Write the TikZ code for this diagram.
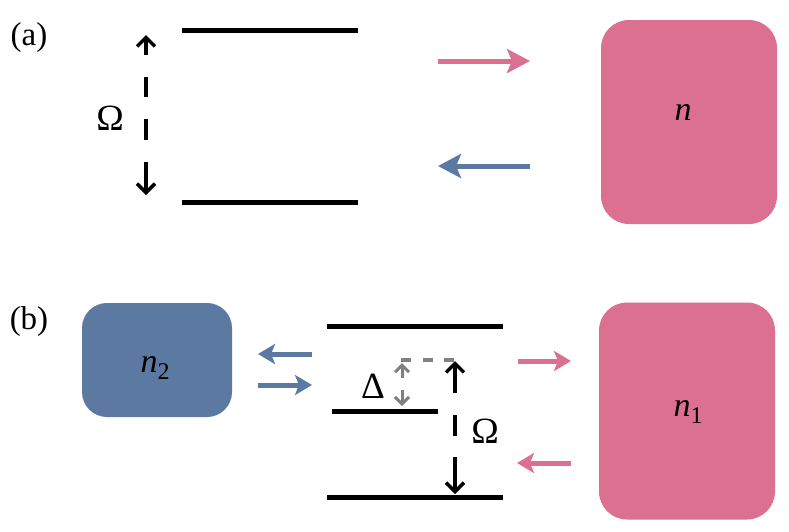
\documentclass[tikz,border=0pt]{standalone}
\usepackage{fontspec}
\setmainfont{Liberation Serif}
\usetikzlibrary{arrows.meta}
\definecolor{pinkc}{RGB}{219,112,145}
\definecolor{bluec}{RGB}{91,121,161}
\definecolor{grayc}{RGB}{128,128,128}
\begin{document}
\begin{tikzpicture}[x=1pt,y=-1pt,
  level/.style={line width=5pt},
  boxshape/.style={rounded corners=28pt, draw=none, inner sep=0pt},
  lbl/.style={inner sep=0pt, font=\fontsize{33}{35}\selectfont},
  glbl/.style={inner sep=0pt, font=\fontsize{37}{39}\selectfont},
  nlbl/.style={inner sep=0pt, font=\fontsize{34}{36}\selectfont},
  bigarrow/.style={line width=5pt, -{Stealth[length=23pt,width=24pt,inset=5pt]}},
  smallarrow/.style={line width=5pt, -{Stealth[length=17pt,width=20pt,inset=4pt]}},
  barb/.style={line width=3.5pt, -{Straight Barb[length=9pt,width=18pt]}},
  dashseg/.style={line width=3.5pt},
  graybarb/.style={grayc, line width=3pt, -{Straight Barb[length=7pt,width=14pt]}},
]
\useasboundingbox (0,0) rectangle (789,531);

% ---------------- (a) ----------------
\node[lbl] (la) at (29,38) {(a)};
\coordinate (aTopL) at (182,30);  \coordinate (aTopR) at (358,30);
\coordinate (aBotL) at (182,202); \coordinate (aBotR) at (358,202);
\draw[level] (aTopL) -- (aTopR);
\draw[level] (aBotL) -- (aBotR);

\coordinate (aO1) at (146,55);  \coordinate (aO0) at (146,35);
\coordinate (aD1) at (146,77);  \coordinate (aD2) at (146,97);
\coordinate (aD3) at (146,119); \coordinate (aD4) at (146,140);
\coordinate (aU1) at (146,162); \coordinate (aU0) at (146,195);
\draw[barb] (aO1) -- (aO0);
\draw[dashseg] (aD1) -- (aD2);
\draw[dashseg] (aD3) -- (aD4);
\draw[barb] (aU1) -- (aU0);
\node[glbl] (aOmega) at (110,118) {Ω};

\coordinate (aP1) at (438,61);  \coordinate (aP2) at (530,61);
\coordinate (aB1) at (530,166); \coordinate (aB2) at (438,166);
\draw[bigarrow, pinkc] (aP1) -- (aP2);
\draw[bigarrow, bluec] (aB1) -- (aB2);

\node[boxshape, fill=pinkc, minimum width=176pt, minimum height=204pt] (boxA) at (689,122) {};
\node[nlbl] (nA) at (683,112) {\itshape n};

% ---------------- (b) ----------------
\node[lbl] (lb) at (29,322) {(b)};

\node[boxshape, fill=bluec, rounded corners=25pt, minimum width=150pt, minimum height=114pt] (boxB2) at (157,360) {};
\node[nlbl] (n2) at (155,368) {\itshape n\raisebox{-7pt}{\fontsize{24}{24}\selectfont\upshape 2}};

\coordinate (bL1) at (312,354); \coordinate (bL2) at (258,354);
\coordinate (bR1) at (258,385); \coordinate (bR2) at (312,385);
\draw[smallarrow, bluec] (bL1) -- (bL2);
\draw[smallarrow, bluec] (bR1) -- (bR2);

\coordinate (bTopL) at (327,326); \coordinate (bTopR) at (503,326);
\coordinate (bMidL) at (332,411); \coordinate (bMidR) at (438,411);
\coordinate (bBotL) at (327,497); \coordinate (bBotR) at (503,497);
\draw[level] (bTopL) -- (bTopR);
\draw[level] (bMidL) -- (bMidR);
\draw[level] (bBotL) -- (bBotR);

\coordinate (gL) at (401,360); \coordinate (gR) at (454,360);
\draw[grayc, line width=4pt, dash pattern=on 10pt off 11.5pt] (gL) -- (gR);
\coordinate (gA1) at (402,378); \coordinate (gA0) at (402,363);
\coordinate (gB1) at (402,390); \coordinate (gB0) at (402,406);
\draw[graybarb] (gA1) -- (gA0);
\draw[graybarb] (gB1) -- (gB0);
\node[glbl] (Delta) at (373,386) {Δ};

\coordinate (bO1) at (455,393); \coordinate (bO0) at (455,361);
\coordinate (bD1) at (455,415); \coordinate (bD2) at (455,436);
\coordinate (bU1) at (455,457); \coordinate (bU0) at (455,494);
\draw[barb] (bO1) -- (bO0);
\draw[dashseg] (bD1) -- (bD2);
\draw[barb] (bU1) -- (bU0);
\node[glbl] (bOmega) at (485,431) {Ω};

\coordinate (bP1) at (518,361); \coordinate (bP2) at (571,361);
\coordinate (bQ1) at (571,463); \coordinate (bQ2) at (517,463);
\draw[smallarrow, pinkc] (bP1) -- (bP2);
\draw[smallarrow, pinkc] (bQ1) -- (bQ2);

\node[boxshape, fill=pinkc, minimum width=176pt, minimum height=217pt] (boxB1) at (687,411) {};
\node[nlbl] (n1) at (688,412) {\itshape n\raisebox{-7pt}{\fontsize{24}{24}\selectfont\upshape 1}};
\end{tikzpicture}
\end{document}
